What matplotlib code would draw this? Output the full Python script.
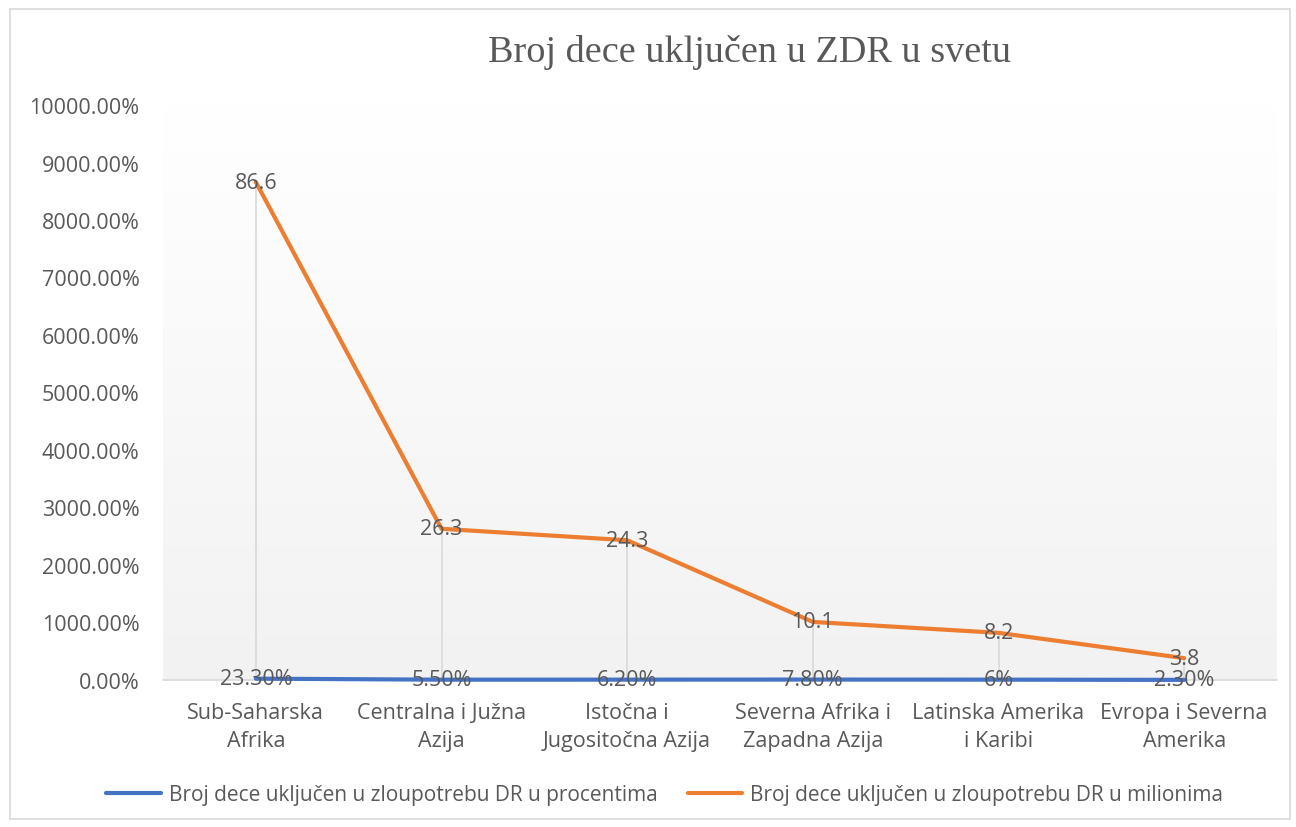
import numpy as np
import matplotlib
matplotlib.use("Agg")
from matplotlib import pyplot as plt
from matplotlib.ticker import FuncFormatter, MultipleLocator
from matplotlib.patches import Rectangle

categories = ["Sub-Saharska\nAfrika", "Centralna i Južna\nAzija", "Istočna i\nJugositočna Azija",
              "Severna Afrika i\nZapadna Azija", "Latinska Amerika\ni Karibi", "Evropa i Severna\nAmerika"]
percent_vals = [0.233, 0.055, 0.062, 0.078, 0.06, 0.023]
percent_labels = ["23.30%", "5.50%", "6.20%", "7.80%", "6%", "2.30%"]
million_vals = [86.6, 26.3, 24.3, 10.1, 8.2, 3.8]
million_labels = ["86.6", "26.3", "24.3", "10.1", "8.2", "3.8"]

title = "Broj dece uključen u ZDR u svetu"
name_pct = "Broj dece uključen u zloupotrebu DR u procentima"
name_mil = "Broj dece uključen u zloupotrebu DR u milionima"

BLUE = "#4472C4"
ORANGE = "#ED7D31"
TXT = "#595959"
FS = 15.5

plt.rcParams['font.family'] = ['Open Sans', 'DejaVu Sans']

fig = plt.figure(figsize=(12.96, 8.28), dpi=100)
ax = fig.add_axes([163/1296, 1 - 681/828, (1277-163)/1296, (681-106)/828])

# border round the chart
fig.patches.append(Rectangle((10/1296, 8/828), 1280/1296, 810/828, transform=fig.transFigure,
                             fill=False, edgecolor="#D9D9D9", linewidth=1.2))

x = np.arange(len(categories))
ax.set_xlim(-0.5, len(categories) - 0.5)

# plot area gradient, white at top to light gray at bottom
grad = np.linspace(1.0, 0.949, 256).reshape(-1, 1)
ax.imshow(np.dstack([grad, grad, grad]), extent=[-0.5, len(categories) - 0.5, 0, 100],
          aspect="auto", zorder=0, origin="upper")
ax.set_ylim(0, 100)

# drop lines
for i in x:
    top = max(million_vals[i], percent_vals[i])
    ax.plot([i, i], [0, top], color="#D9D9D9", linewidth=1.2, zorder=1)

ax.plot(x, percent_vals, color=BLUE, linewidth=3, solid_capstyle="round", zorder=3,
        clip_on=False, label=name_pct)
ax.plot(x, million_vals, color=ORANGE, linewidth=3, solid_capstyle="round", zorder=3, label=name_mil)

for i in x:
    ax.text(i, million_vals[i], million_labels[i], ha="center", va="center", fontsize=FS, color=TXT, zorder=4)
    ax.text(i, percent_vals[i], percent_labels[i], ha="center", va="center", fontsize=FS, color=TXT, zorder=4)

ax.yaxis.set_major_locator(MultipleLocator(10))
ax.yaxis.set_major_formatter(FuncFormatter(lambda v, p: f"{v*100:.2f}%"))
ax.set_xticks(x)
ax.set_xticklabels(categories, fontsize=FS, color=TXT, linespacing=1.45)
ax.tick_params(axis="y", labelsize=FS, labelcolor=TXT, length=0, pad=17)
ax.tick_params(axis="x", length=0, pad=16)
for s in ["top", "right", "left"]:
    ax.spines[s].set_visible(False)
ax.spines["bottom"].set_color("#D9D9D9")
ax.spines["bottom"].set_linewidth(1.2)

fig.text(750/1296, 1 - 52/828, title, ha="center", va="center", fontsize=27.5,
         color=TXT, family=["Liberation Serif", "DejaVu Serif"])

fig.legend(loc="center", bbox_to_anchor=(0.513, 1 - 796/828), ncol=2, frameon=False,
           fontsize=15, labelcolor=TXT, handlelength=2.6, handletextpad=0.4, columnspacing=1.45)

fig.savefig("out.png", dpi=100)
